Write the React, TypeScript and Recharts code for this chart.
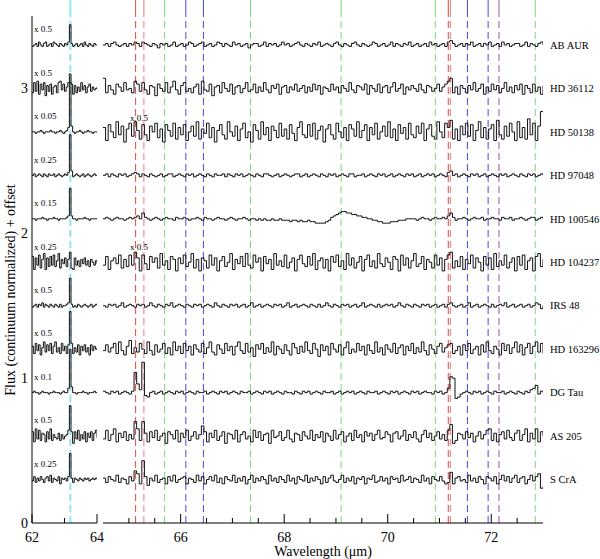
import { LineChart, Line, XAxis, YAxis, ReferenceLine, ReferenceDot, Label } from "recharts";

const FONT = "'Liberation Serif', 'Times New Roman', serif";

const stars = ["AB AUR", "HD 36112", "HD 50138", "HD 97048", "HD 100546", "HD 104237", "IRS 48", "HD 163296", "DG Tau", "AS 205", "S CrA"];
const offsets = [3.3, 3.0, 2.7, 2.4, 2.1, 1.8, 1.5, 1.2, 0.9, 0.6, 0.3];
const oiScale = ["x 0.5", "x 0.5", "x 0.05", "x 0.25", "x 0.15", "x 0.25", "x 0.5", "x 0.5", "x 0.1", "x 0.5", "x 0.25"];

// [OI] 63 um window (left panel)
const waveL = [62.0, 62.05, 62.1, 62.15, 62.2, 62.25, 62.3, 62.35, 62.4, 62.45,
  62.5, 62.55, 62.6, 62.65, 62.7, 62.75, 62.8, 62.85, 62.9, 62.95,
  63.0, 63.05, 63.1, 63.15, 63.2, 63.25, 63.3, 63.35, 63.4, 63.45,
  63.5, 63.55, 63.6, 63.65, 63.7, 63.75, 63.8, 63.85, 63.9, 63.95, 64.0];

// residuals in units of 0.01 (continuum normalized)
const abAurL = [-1, 0, 1, -1, 2, 0, -1, 1, 2, -1, 0, 1, -1, 2, 1, 0, -1, 1, 0, -1, 1, 0, 2, 14, 1, -1, 0, 1, -1, 0, 1, -1, 2, 0, -1, 1, 0, -1, 1, 0, 0];
const hd36112L = [-3, 4, -2, 5, -4, 3, -1, 4, -5, 2, -2, 3, -4, 1, 2, -3, 4, 5, -1, 3, -2, 1, 4, 10, 3, -4, 2, -3, 1, -2, 4, -1, 2, -3, 1, 3, -2, 1, -1, 0, 1];
const hd50138L = [0, 0, -1, 0, 0, 1, 0, -1, 0, 0, 0, 1, 0, 0, -1, 0, 0, 1, 0, -1, 0, 1, 3, 34, 4, 0, -1, 0, 0, 1, 0, -1, 0, 0, 1, 0, 0, -1, 0, 0, 0];
const hd97048L = [0, 1, -1, 0, 1, 0, -1, 1, 0, -1, 1, 0, 0, 1, -1, 0, 1, 0, -1, 0, 1, 0, 2, 28, 3, -1, 0, 1, 0, -1, 0, 1, -1, 0, 1, 0, -1, 0, 1, 0, 0];
const hd100546L = [0, 0, -1, 0, 0, 0, 1, 0, 0, -1, 0, 0, 0, 1, 0, 0, -1, 0, 0, 0, 0, 1, 2, 21, 2, 0, 0, -1, 0, 0, 0, 0, 1, 0, 0, -1, 0, 0, 0, 0, 0];
const hd104237L = [4, -5, 3, -2, 5, -4, 2, 6, -5, 3, -3, 4, -2, 5, -3, 1, 6, -4, 2, -1, 3, -3, 2, 7, -4, -5, 3, -2, 1, -3, 2, -1, 3, -2, 1, -3, 2, 0, -2, 1, -1];
const irs48L = [-1, 0, 1, -1, 1, 0, 2, -1, 1, 0, -1, 1, 0, -1, 1, 0, -1, 1, -1, 0, 0, 1, 2, 19, 1, -1, 0, -1, 1, 0, -1, 0, 1, 0, -1, 0, 1, -1, 0, 1, 0];
const hd163296L = [2, -3, 4, -1, 3, -4, 1, 5, -2, 3, -1, 4, -3, 2, 5, -2, 1, -3, 4, -1, 2, -3, 3, 26, 4, -3, 1, -2, 3, -4, 2, -1, 3, -2, 1, -4, 3, -1, 2, 0, 1];
const dgTauL = [0, 1, 0, 0, -1, 0, 1, 0, 0, 0, -1, 0, 0, 1, 0, 0, 0, -1, 0, 1, 0, 0, 3, 30, 4, 0, 0, -1, 0, 0, 0, 1, 0, 0, -1, 0, 0, 0, 1, 0, 0];
const as205L = [3, -4, 5, -2, 4, -3, 2, 1, -4, 3, -2, 5, -3, 1, -1, -2, 2, -3, 1, -2, 0, 1, 4, 21, 3, -5, 3, -2, 4, -3, 1, -2, 3, -4, 2, -1, 3, -3, 2, 4, -1];
const sCrAL = [-1, 2, -2, 1, -1, 2, 0, -2, 1, 2, -1, 3, -2, 1, 0, -1, 2, -3, 1, 0, 1, -1, 2, 18, 1, -2, 1, 0, -1, 1, 0, -1, 1, 0, 1, -1, 0, 1, 0, 1, 0];

// 64.5 - 73 um window (right panel), 0.05 um bins
const waveR = [
  64.5, 64.55, 64.6, 64.65, 64.7, 64.75, 64.8, 64.85, 64.9, 64.95,
  65.0, 65.05, 65.1, 65.15, 65.2, 65.25, 65.3, 65.35, 65.4, 65.45,
  65.5, 65.55, 65.6, 65.65, 65.7, 65.75, 65.8, 65.85, 65.9, 65.95,
  66.0, 66.05, 66.1, 66.15, 66.2, 66.25, 66.3, 66.35, 66.4, 66.45,
  66.5, 66.55, 66.6, 66.65, 66.7, 66.75, 66.8, 66.85, 66.9, 66.95,
  67.0, 67.05, 67.1, 67.15, 67.2, 67.25, 67.3, 67.35, 67.4, 67.45,
  67.5, 67.55, 67.6, 67.65, 67.7, 67.75, 67.8, 67.85, 67.9, 67.95,
  68.0, 68.05, 68.1, 68.15, 68.2, 68.25, 68.3, 68.35, 68.4, 68.45,
  68.5, 68.55, 68.6, 68.65, 68.7, 68.75, 68.8, 68.85, 68.9, 68.95,
  69.0, 69.05, 69.1, 69.15, 69.2, 69.25, 69.3, 69.35, 69.4, 69.45,
  69.5, 69.55, 69.6, 69.65, 69.7, 69.75, 69.8, 69.85, 69.9, 69.95,
  70.0, 70.05, 70.1, 70.15, 70.2, 70.25, 70.3, 70.35, 70.4, 70.45,
  70.5, 70.55, 70.6, 70.65, 70.7, 70.75, 70.8, 70.85, 70.9, 70.95,
  71.0, 71.05, 71.1, 71.15, 71.2, 71.25, 71.3, 71.35, 71.4, 71.45,
  71.5, 71.55, 71.6, 71.65, 71.7, 71.75, 71.8, 71.85, 71.9, 71.95,
  72.0, 72.05, 72.1, 72.15, 72.2, 72.25, 72.3, 72.35, 72.4, 72.45,
  72.5, 72.55, 72.6, 72.65, 72.7, 72.75, 72.8, 72.85, 72.9, 72.95,
  73.0];

const abAurR = [
  0, 1, -1, 1, 2, 0, -1, 0, 1, -1, 1, 0, 2, 1, -1, 2, 1, 0, -1, 1,
  0, -2, 1, 0, 1, -1, 0, 2, -1, 0, 1, -1, 0, 2, 1, -1, 0, 1, 2, -1,
  0, 1, -1, 0, 2, 1, -1, 1, 0, -1, 2, 0, 1, -1, 0, 1, -2, 0, 1, 1,
  -1, 0, 2, -1, 1, 0, 1, -1, 0, 2, 0, 1, -1, 0, 1, 2, 0, -1, 1, 0,
  -1, 1, 0, 2, -1, 0, 1, 0, -1, 1, 2, 0, -1, 1, 0, -1, 1, 2, 0, -1,
  1, 0, -1, 0, 2, 1, -1, 0, 1, -1, 0, 2, -1, 1, 0, -1, 1, 0, 2, -1,
  0, 1, -1, 0, 1, -1, 2, 0, 1, -1, 0, 1, -1, 2, 3, 1, -1, 0, 1, -1,
  1, 0, 2, -1, 0, 1, -1, 1, 0, 2, -1, 0, 1, -1, 2, 0, 1, -1, 0, 1,
  1, -1, 0, 2, -1, 1, 0, -1, 1, 2, 0];
const hd36112R = [
  7, -3, 2, -1, -4, 3, 1, -2, 4, -1, 0, -3, 5, 3, -2, 4, -1, -4, 2, 1,
  -5, 3, 0, -2, 4, -3, 1, 5, -1, -4, 2, 4, -2, 0, -3, 1, 3, -4, 5, -1,
  -2, 3, -5, 1, 2, -3, 4, 0, -2, 3, -4, 1, 2, -3, 0, 4, -2, -1, 3, -3,
  1, -2, 4, -1, -3, 2, 0, 3, -4, 1, 2, -3, 1, -1, 3, -2, 0, 2, -3, 1,
  -2, 3, -1, 2, -4, 1, 0, -2, 3, -1, 1, -3, 2, 0, -2, 4, -1, -3, 2, 1,
  -1, 3, -4, 2, 0, -2, 3, -3, 1, 2, -3, 1, 4, -2, 0, 3, -4, 1, -1, 2,
  0, -2, 3, -1, -3, 2, 1, -2, 0, 3, -2, 1, 3, 5, 7, -3, 1, -4, 2, 0,
  -3, 2, -1, 4, -2, 0, 3, -4, 1, -2, 3, -1, 2, -3, 0, 4, -2, 1, -3, 2,
  -1, 3, -4, 2, 0, -3, 3, -2, 1, -4, 2];
const hd50138R = [
  3, -6, 5, 0, -4, 7, -2, 4, -7, 2, 6, -3, 7, 1, -5, 5, -2, -6, 4, 0,
  6, -4, 2, -7, 5, 1, -3, 6, -5, 3, -2, 5, -6, 0, 4, -3, 7, -5, 2, -1,
  6, -4, 3, -7, 1, 5, -2, -5, 7, 0, -3, 4, -6, 2, 6, -4, 0, -7, 5, 1,
  -5, 7, -2, 3, -6, 4, 1, -4, 6, -3, 2, -5, 5, -1, -6, 3, 7, -2, -4, 5,
  -3, 6, -5, 1, 4, -7, 2, 5, -2, -5, 6, 0, -4, 3, -6, 5, 2, -3, 7, -4,
  1, 5, -6, 3, -2, 6, -5, 0, 4, -3, 7, -4, 2, -6, 5, -1, 3, -5, 6, -2,
  -4, 4, -1, 6, -6, 2, 5, -3, -5, 7, 0, -4, 6, 3, 8, -5, 2, -6, 4, -2,
  6, -3, 5, -6, 1, 7, -4, 3, -5, 2, 5, -6, 8, -2, -5, 4, -3, 6, 0, -6,
  7, -4, 3, -5, 9, -2, 6, -6, 4, 14, 14];
const hd97048R = [
  0, 1, -1, 1, 0, -1, 1, 0, 1, -1, 0, 1, 2, 1, -1, 1, 0, -1, 1, 0,
  -1, 0, 1, -1, 0, 1, 1, -1, 0, 1, 0, -1, 1, 0, 1, -1, 0, 1, 0, -1,
  1, 0, -1, 1, 0, 0, 1, -1, 1, 0, -1, 1, 0, 1, -1, 0, 1, 0, -1, 1,
  0, -1, 1, 1, 0, -1, 0, 1, -1, 0, 1, 0, -1, 0, 1, 1, -1, 0, 1, -1,
  0, 1, 0, -1, 1, 0, -1, 1, 0, 1, -1, 0, 1, 0, -1, 1, 1, -1, 0, 0,
  1, -1, 0, 1, 0, -1, 1, 0, 1, -1, 0, 1, -1, 0, 1, 0, -1, 1, 0, 1,
  -1, 0, 1, -1, 0, 1, 0, 1, -1, 0, 1, 0, -1, 2, 3, 0, 1, -1, 0, 1,
  0, -1, 1, 0, 1, -1, 0, 1, -1, 0, 1, 0, -1, 1, 0, 1, -1, 0, 1, 0,
  -1, 1, 0, -1, 1, 0, 1, -1, 0, 1, 0];
const hd100546R = [
  0, 1, 0, -1, 0, 1, 0, 0, -1, 0, 1, 0, 1, 2, 0, 4, 1, 0, -1, 0,
  1, 0, -1, 0, 1, 0, 0, -1, 1, 0, 0, 1, 0, -1, 0, 0, 1, 0, -1, 1,
  0, 0, -1, 0, 1, 0, 0, -1, 0, 1, 0, -1, 0, 0, 1, 0, -1, 0, 0, -1,
  0, -1, 0, -1, -1, 0, -1, -1, 0, -1, -1, -1, -2, -1, -1, -2, -1, -2, -2, -1,
  -2, -2, -3, -3, -3, -3, -2, -1, 1, 2, 3, 4, 5, 5, 4, 4, 3, 3, 2, 2,
  1, 1, 0, 0, -1, -1, -2, -2, -3, -3, -3, -2, -2, -2, -1, -1, -1, 0, 0, 0,
  0, -1, 0, 1, 0, 0, -1, 0, 1, 0, 0, 1, 0, 2, 4, 1, -1, 0, 0, 1,
  0, -1, 0, 1, 0, 0, 1, -1, 0, 0, 1, 0, 0, -1, 1, 0, 0, 1, -1, 0,
  0, 1, 0, -1, 0, 1, 1, -1, 0, 1, 0];
const hd104237R = [
  -2, 4, -5, 1, 3, -1, 5, -4, 2, -3, 5, -2, 7, 3, -6, 5, -1, -5, 4, 0,
  3, -4, 6, -2, 1, -5, 4, 2, -6, 3, -1, 5, -3, 0, 6, -4, 2, -6, 3, 1,
  -4, 5, -2, 3, -6, 1, 4, -3, 0, 6, -5, 2, -1, 4, -3, 6, -2, -4, 5, 0,
  3, -6, 4, -1, 2, -5, 6, -2, 1, -3, 5, -4, 0, 3, -6, 2, 5, -1, -3, 4,
  -2, 6, -5, 1, 3, -4, 2, -6, 4, 0, 5, -3, 1, -5, 6, -2, 3, -4, 0, 4,
  -6, 2, 5, -3, 1, -4, 6, -1, -3, 3, 0, -5, 4, 2, -6, 5, -2, 3, -4, 1,
  6, -3, -1, 4, -5, 2, 0, -4, 5, -2, 3, -6, 2, 5, 7, -4, 1, -3, 4, -5,
  2, -1, 5, -4, 3, 0, -6, 4, -2, 3, -5, 6, -3, 1, -2, 5, -4, 0, 3, -6,
  4, -2, 5, -5, 1, 3, -6, 4, 6, -3, 2];
const irs48R = [
  0, -1, 1, 0, 1, -1, 0, 2, -1, 0, 1, 0, -1, 1, 0, 1, -1, 0, 2, 0,
  -1, 1, 0, -1, 1, 0, 2, -1, 0, 1, 0, -1, 1, 0, -1, 1, 0, 1, -1, 0,
  1, 0, -1, 2, 0, -1, 1, 0, -1, 1, 0, 1, -1, 0, 1, -1, 0, 2, -1, 0,
  1, -1, 0, 1, 0, -1, 1, 0, 1, -1, 0, 2, -1, 0, 1, -1, 0, 1, 0, -1,
  1, 0, -1, 1, -1, 0, 2, 0, -1, 1, 0, -1, 1, 0, 1, -1, 0, 1, -1, 0,
  2, -1, 0, 1, 0, -1, 1, -1, 0, 1, 0, 1, -1, 0, 2, 0, -1, 1, 0, -1,
  1, 0, -1, 1, 0, 1, -1, 0, 1, -1, 0, 1, -1, 1, 2, 0, -1, 0, 1, -1,
  0, 2, -1, 0, 1, -1, 0, 1, 0, -1, 1, -1, 0, 1, 0, 2, -1, 0, 1, -1,
  0, 1, -1, 0, 1, -1, 0, 2, 1, -2, 0];
const hd163296R = [
  -1, 3, -2, 1, 4, -3, 5, -1, -4, 2, 6, -3, 1, -2, 4, 0, -3, 5, -1, -4,
  3, -2, 0, 4, -3, 1, -4, 5, -1, 2, -3, 4, -1, 2, -4, 3, 0, -2, 4, -3,
  1, 5, -2, -4, 3, 0, -3, 4, -1, 2, -4, 2, 5, -1, -3, 4, -2, 1, -5, 3,
  0, 4, -3, 1, -2, 5, -4, 2, 0, -3, 3, -1, -4, 4, 1, -3, 2, -2, 5, -1,
  -3, 4, 0, -5, 3, -1, 2, -4, 4, 0, -2, 3, -4, 1, 5, -3, 0, -2, 4, -1,
  2, -4, 3, -1, -3, 5, -2, 1, -4, 3, 0, -2, 4, -3, 1, 3, -4, 2, -1, 4,
  -3, 1, -2, 5, -1, -4, 3, 0, -3, 2, 4, -2, 1, 3, 4, -3, -1, 2, -4, 3,
  -1, 4, -3, 0, 2, -4, 3, -2, 5, -1, -3, 2, 0, -4, 4, -1, 3, -3, 1, 5,
  -2, 3, -4, 1, 4, -3, 2, 5, -2, 4, -3];
const dgTauR = [
  1, 0, -1, 1, 0, 1, -1, 0, 1, 0, -1, 1, 14, 6, 2, 21, -2, -3, 0, 1,
  -1, 0, 1, -1, 0, 1, 0, -1, 1, 0, 1, -1, 0, 1, 0, -1, 1, 0, 0, 1,
  -1, 0, 1, 0, -1, 1, 0, 1, -1, 0, 1, 0, -1, 1, 0, 0, 1, -1, 0, 1,
  0, -1, 1, 0, 1, -1, 0, 1, 0, -1, 1, 0, 0, -1, 1, 0, -1, 1, 0, 1,
  -1, 0, 1, 0, -1, 1, 0, 0, 1, -1, 0, 1, -1, 0, 1, 0, 1, -1, 0, 1,
  0, -1, 1, 0, 0, 1, -1, 0, 1, 0, -1, 1, 0, 1, -1, 0, 1, 0, -1, 1,
  0, 1, -1, 0, 1, 0, 0, -1, 1, 0, 1, -1, 0, 3, 11, 10, -4, -3, -1, 0,
  1, 0, -1, 1, 0, 1, -1, 0, 1, 0, -1, 1, 0, 0, 1, -1, 0, 1, 0, -1,
  1, 0, -1, 1, 0, 2, 3, 5, -1, 1, 0];
const as205R = [
  -2, 4, -3, 1, 5, -4, 2, -1, 3, -3, 1, -2, 10, 5, -3, 10, 2, -4, 3, -1,
  4, -3, 0, 2, -5, 3, 1, -2, 4, -4, 2, -1, 4, -3, 0, 3, -2, 1, 7, 3,
  -4, 2, -1, 4, -3, 0, 3, -5, 2, 1, -2, 4, -4, 1, 3, -2, 0, -4, 4, -1,
  3, -3, 1, 2, -5, 4, -1, 0, 3, -3, -1, 4, -2, -4, 2, 1, -3, 3, 0, -2,
  4, -3, 1, -1, 3, -4, 2, 0, -3, 4, -2, 1, 3, -4, 0, 2, -3, 4, -1, 1,
  -4, 3, 0, 2, -3, 1, 4, -2, -1, 3, 1, -4, 2, 3, -2, 0, 4, -3, 1, -1,
  3, -2, -4, 1, 4, -1, 2, -3, 0, 3, -2, 1, -3, 4, 8, -5, -3, 2, 1, -2,
  3, -1, 2, -4, 0, 3, -2, 1, 4, 5, -3, 2, -4, 1, 3, -2, 4, -1, -3, 2,
  4, -3, 1, 5, -4, 2, -2, 5, -4, 3, 0];
const sCrAR = [
  1, -2, 2, 0, -1, 3, -2, 1, 0, -3, 2, -1, 6, 4, -3, 13, 2, -4, 1, -1,
  3, -2, 0, 1, -3, 2, -1, 3, -2, 0, 1, 2, -3, 1, 0, -2, 3, -1, 2, -3,
  0, 2, -1, 3, -2, 1, -3, 2, 0, -1, 3, -2, 1, -1, 2, -3, 0, 3, -2, 1,
  -1, 2, 0, -3, 3, -1, 1, -2, 2, 0, -2, 3, -1, 1, -3, 2, 0, -1, 3, -2,
  1, -1, 2, 0, -3, 2, -2, 1, 3, -1, -2, 0, 3, -2, 1, -1, 2, -3, 1, 0,
  2, -3, 1, 0, 3, -2, -1, 2, -1, 1, -3, 2, 0, 1, -2, 3, -1, 0, 2, -2,
  1, 0, -2, 3, -1, 1, -3, 2, 0, -1, 2, -1, -3, -2, 5, -3, 1, 2, -1, 0,
  -2, 3, -1, 1, -2, 2, 0, -3, 2, 1, -1, 2, -3, 0, 3, -1, 2, -2, 1, 3,
  -2, 1, 2, -3, 0, 3, -1, 2, 4, -6, -5];

const residL = [abAurL, hd36112L, hd50138L, hd97048L, hd100546L, hd104237L, irs48L, hd163296L, dgTauL, as205L, sCrAL];
const residR = [abAurR, hd36112R, hd50138R, hd97048R, hd100546R, hd104237R, irs48R, hd163296R, dgTauR, as205R, sCrAR];

// line identifications in the right panel
const lineWaves = [65.13, 65.29, 65.69, 66.1, 66.44, 67.35, 69.1, 70.92, 71.17, 71.21, 71.54, 71.94, 72.15, 72.85];
const lineColors = ["#d94848", "#f07878", "#7ad87a", "#4a4ae0", "#4a4ae0", "#7ad87a", "#7ad87a", "#7ad87a", "#d94848", "#f07878", "#4a4ae0", "#4a4ae0", "#a050a0", "#7ad87a"];
const oiWave = 63.18;

const yTicks = [0, 0.5, 1, 1.5, 2, 2.5, 3, 3.5];
const ticksR = [65, 65.5, 66, 66.5, 67, 67.5, 68, 68.5, 69, 69.5, 70, 70.5, 71, 71.5, 72, 72.5];
const labelledR = [66, 68, 70, 72];
const ticksL = [62, 63, 64];
const labelledL = [62, 64];

function build(waves: number[], resid: number[][]) {
  return waves.map((w, i) => {
    const row: Record<string, number> = { w };
    stars.forEach((s, k) => {
      row[s] = Math.round((offsets[k] + (resid[k][i] ?? 0) / 100) * 1000) / 1000;
    });
    return row;
  });
}

const dataL = build(waveL, residL);
const dataR = build(waveR, residR);

function WaveTick(props: any) {
  const { x, y, payload, side, labelled } = props;
  const major = labelled.includes(payload.value);
  const len = major ? 9 : 5;
  const dir = side === "top" ? 1 : -1;
  return (
    <g>
      <line x1={x} x2={x} y1={y} y2={y + dir * len} stroke="#000" strokeWidth={1} />
      {side === "bottom" && major && (
        <text x={x} y={y + 19} textAnchor="middle" fill="#000" style={{ fontSize: 14, fontFamily: FONT }}>
          {payload.value}
        </text>
      )}
    </g>
  );
}

const H = 559;
const smallText = { fontSize: 9, fontFamily: FONT };

export default function App() {
  return (
    <div style={{ position: "absolute", left: 0, top: 0, width: 600, height: H, background: "#fff", fontFamily: FONT }}>
      <svg width={24} height={H} style={{ position: "absolute", left: 0, top: 0 }}>
        <text transform="translate(15, 290) rotate(-90)" textAnchor="middle" fill="#000" style={{ fontSize: 14, fontFamily: FONT }}>
          Flux (continuum normalized) + offset
        </text>
      </svg>

      <div style={{ position: "absolute", left: 0, top: 0 }}>
        <LineChart width={112} height={H} data={dataL} margin={{ top: 16, right: 15, bottom: 0, left: 0 }}>
          <XAxis dataKey="w" type="number" domain={[62, 64]} allowDataOverflow ticks={ticksL} interval={0}
            height={36} tickSize={0} tickMargin={0} tickLine={false} axisLine={{ stroke: "#000" }}
            tick={<WaveTick side="bottom" labelled={labelledL} />} />
          <XAxis xAxisId="top" orientation="top" dataKey="w" type="number" domain={[62, 64]} allowDataOverflow ticks={[63]} interval={0}
            height={0} tickSize={0} tickMargin={0} tickLine={false} axisLine={{ stroke: "#000" }}
            tick={<WaveTick side="top" labelled={[]} />} />
          <YAxis yAxisId="l" type="number" domain={[0, 3.5]} allowDataOverflow ticks={[0, 1, 2, 3]} interval={0}
            width={32} tickSize={0} tickMargin={4} tickLine={false} axisLine={{ stroke: "#000" }}
            tick={{ fontSize: 14, fill: "#000", fontFamily: FONT, style: { fontFamily: FONT } }} />
          <YAxis yAxisId="r" orientation="right" type="number" domain={[0, 3.5]} allowDataOverflow
            width={0} tick={false} tickLine={false} axisLine={{ stroke: "#000" }} />
          <ReferenceLine yAxisId="l" x={oiWave} stroke="#8fe6ee" strokeWidth={2} strokeDasharray="7 4" />
          <ReferenceLine yAxisId="l" ifOverflow="visible" segment={[{ x: oiWave, y: 3.5 }, { x: oiWave, y: 3.62 }]} stroke="#8fe6ee" strokeWidth={2} />
          {stars.map((s) => (
            <Line key={s} yAxisId="l" dataKey={s} type="stepAfter" stroke="#111" strokeWidth={1} dot={false} isAnimationActive={false} />
          ))}
          {stars.map((s, k) => (
            <ReferenceDot key={"t" + s} yAxisId="l" x={62.06} y={offsets[k] + 0.11} r={0} fill="none" stroke="none"
              label={{ value: oiScale[k], position: "right", offset: 0, fill: "#000", style: smallText }} />
          ))}
        </LineChart>
      </div>

      <div style={{ position: "absolute", left: 0, top: 0 }}>
        <LineChart width={600} height={H} data={dataR} margin={{ top: 16, right: 57, bottom: 0, left: 103 }}>
          <XAxis dataKey="w" type="number" domain={[64.5, 73]} allowDataOverflow ticks={ticksR} interval={0}
            height={36} tickSize={0} tickMargin={0} tickLine={false} axisLine={{ stroke: "#000" }}
            tick={<WaveTick side="bottom" labelled={labelledR} />}>
            <Label value="Wavelength (μm)" position="insideBottom" offset={3} fill="#000" style={{ fontSize: 14, fontFamily: FONT }} />
          </XAxis>
          <XAxis xAxisId="top" orientation="top" dataKey="w" type="number" domain={[64.5, 73]} allowDataOverflow ticks={ticksR} interval={0}
            height={0} tickSize={0} tickMargin={0} tickLine={false} axisLine={{ stroke: "#000" }}
            tick={<WaveTick side="top" labelled={labelledR} />} />
          <YAxis yAxisId="l" type="number" domain={[0, 3.5]} allowDataOverflow ticks={yTicks} interval={0}
            width={0} mirror tickSize={8} tick={false} tickLine={{ stroke: "#000" }} axisLine={{ stroke: "#000" }} />
          <YAxis yAxisId="r" orientation="right" type="number" domain={[0, 3.5]} allowDataOverflow ticks={yTicks} interval={0}
            width={0} mirror tickSize={8} tick={false} tickLine={{ stroke: "#000" }} axisLine={{ stroke: "#888", strokeWidth: 2 }} />
          {lineWaves.map((w, i) => (
            <ReferenceLine key={"d" + i} yAxisId="l" x={w} stroke={lineColors[i]} strokeWidth={1} strokeDasharray="7 4" />
          ))}
          {lineWaves.map((w, i) => (
            <ReferenceLine key={"s" + i} yAxisId="l" ifOverflow="visible" segment={[{ x: w, y: 3.5 }, { x: w, y: 3.62 }]} stroke={lineColors[i]} strokeWidth={1} />
          ))}
          {stars.map((s) => (
            <Line key={s} yAxisId="l" dataKey={s} type="stepAfter" stroke="#111" strokeWidth={1} dot={false} isAnimationActive={false} />
          ))}
          {stars.map((s, k) => (
            <ReferenceDot key={"n" + s} yAxisId="l" x={73} y={offsets[k]} r={0} fill="none" stroke="none" ifOverflow="visible"
              label={{ value: s, position: "right", offset: 7, fill: "#000", style: { fontSize: 10.5, fontFamily: FONT } }} />
          ))}
          <ReferenceDot yAxisId="l" x={65.02} y={offsets[2] + 0.1} r={0} fill="none" stroke="none"
            label={{ value: "x 0.5", position: "right", offset: 0, fill: "#000", style: smallText }} />
          <ReferenceDot yAxisId="l" x={65.02} y={offsets[5] + 0.11} r={0} fill="none" stroke="none"
            label={{ value: "x 0.5", position: "right", offset: 0, fill: "#000", style: smallText }} />
        </LineChart>
      </div>
    </div>
  );
}
